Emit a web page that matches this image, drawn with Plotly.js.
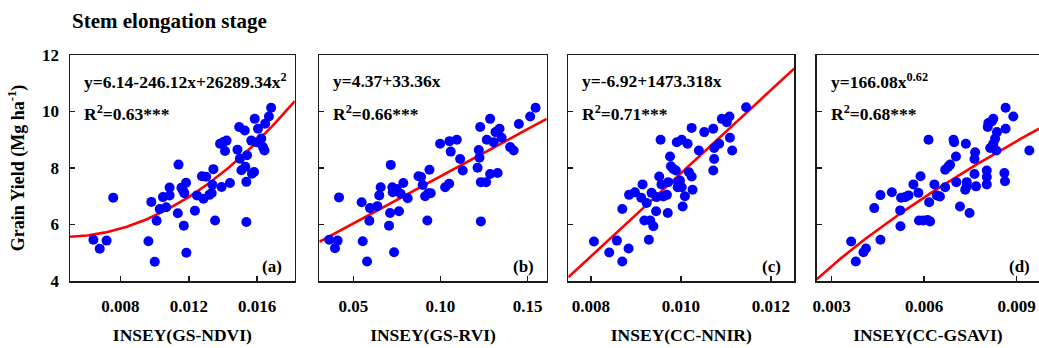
<!DOCTYPE html>
<html>
<head>
<meta charset="utf-8">
<script src="https://cdn.plot.ly/plotly-3.0.1.min.js"></script>
<style>
html,body{margin:0;padding:0;background:#fff;overflow:hidden;}
#chart{width:1039px;height:348px;}
</style>
</head>
<body>
<div id="chart"></div>
<script>
// ---- Data ----
const ndviX = [0.00642,0.00679,0.00719,0.00758,0.00964,0.00981,0.01001,0.01012,0.01030,0.01049,0.01068,0.01088,0.01088,0.01136,0.01140,0.01157,0.01166,0.01171,0.01174,0.01184,0.01186,0.01236,0.01248,0.01277,0.01286,0.01302,0.01321,0.01334,0.01344,0.01354,0.01338,0.01383,0.01403,0.01392,0.01412,0.01421,0.01441,0.01485,0.01495,0.01499,0.01508,0.01528,0.01531,0.01537,0.01537,0.01541,0.01566,0.01570,0.01582,0.01586,0.01599,0.01605,0.01624,0.01634,0.01643,0.01647,0.01669,0.01682];
const ndviY = [5.46,5.14,5.43,6.95,5.41,6.80,4.68,6.13,6.55,6.97,6.61,7.03,7.31,6.40,8.12,7.30,7.21,5.96,7.11,7.48,5.00,6.49,7.03,7.71,6.91,7.69,7.05,7.11,7.96,6.14,7.41,8.86,8.92,7.33,8.60,8.97,7.47,8.65,9.45,8.33,7.92,9.33,8.04,7.51,6.09,8.45,8.97,7.80,7.86,9.74,8.91,9.39,9.04,8.74,8.62,9.57,9.82,10.13];

const rviX = [0.0362,0.0395,0.0410,0.0418,0.0548,0.0554,0.0579,0.0592,0.0596,0.0638,0.0649,0.0657,0.0705,0.0711,0.0715,0.0724,0.0726,0.0734,0.0749,0.0762,0.0772,0.0787,0.0812,0.0874,0.0889,0.0898,0.0912,0.0925,0.0931,0.0937,0.0944,0.0998,0.1027,0.1050,0.1052,0.1059,0.1094,0.1113,0.1128,0.1213,0.1220,0.1224,0.1228,0.1232,0.1232,0.1262,0.1266,0.1285,0.1285,0.1305,0.1316,0.1328,0.1339,0.1351,0.1400,0.1420,0.1450,0.1515,0.1546];
const rviY = [5.46,5.16,5.43,6.96,6.79,5.41,4.69,6.13,6.58,6.65,7.03,7.32,5.96,6.41,8.11,7.32,7.14,5.02,7.26,6.47,7.09,7.47,6.93,7.71,7.68,7.40,7.00,6.14,7.11,7.94,7.11,8.86,7.32,7.44,8.95,8.58,9.00,8.32,7.91,8.01,8.64,8.36,9.45,7.50,6.11,7.50,9.00,9.74,7.79,8.91,9.27,7.82,9.39,9.07,8.74,8.62,9.56,9.82,10.13];

const nnirX = [0.00807,0.00841,0.00858,0.00870,0.00870,0.00884,0.00885,0.00898,0.00915,0.00912,0.00919,0.00924,0.00929,0.00932,0.00935,0.00939,0.00945,0.00946,0.00952,0.00955,0.00957,0.00961,0.00969,0.00971,0.00972,0.00976,0.00978,0.00983,0.00989,0.00991,0.00993,0.00994,0.00998,0.01002,0.01002,0.01004,0.01009,0.01015,0.01018,0.01024,0.01024,0.01026,0.01040,0.01052,0.01072,0.01072,0.01074,0.01074,0.01085,0.01091,0.01102,0.01108,0.01109,0.01114,0.01145];
const nnirY = [5.40,5.01,5.43,4.69,6.55,5.15,7.05,7.14,7.42,6.95,6.14,6.76,5.46,6.14,7.12,5.94,6.47,6.97,7.70,9.00,7.42,6.99,7.05,6.41,7.50,8.41,8.06,7.97,7.91,8.91,7.32,7.50,7.56,9.00,7.32,6.64,7.00,8.86,7.85,9.42,7.70,7.23,8.62,9.27,9.39,7.91,8.32,8.71,8.86,9.74,9.62,9.82,9.07,8.62,10.15];

const gsaviX = [0.00363,0.00378,0.00403,0.00411,0.00438,0.00458,0.00458,0.00495,0.00522,0.00523,0.00525,0.00538,0.00549,0.00565,0.00581,0.00583,0.00588,0.00597,0.00611,0.00614,0.00616,0.00619,0.00633,0.00641,0.00651,0.00668,0.00668,0.00678,0.00684,0.00695,0.00697,0.00703,0.00704,0.00716,0.00733,0.00735,0.00738,0.00738,0.00747,0.00763,0.00765,0.00763,0.00768,0.00803,0.00803,0.00803,0.00806,0.00808,0.00814,0.00819,0.00824,0.00824,0.00830,0.00834,0.00836,0.00860,0.00862,0.00864,0.00864,0.00889,0.00941];
const gsaviY = [5.40,4.69,5.02,5.15,6.58,7.04,5.46,7.14,6.50,5.94,6.95,6.97,7.03,7.42,7.12,6.14,7.71,6.14,6.16,9.00,6.79,6.11,7.42,7.03,6.99,7.32,7.94,8.05,8.12,9.00,8.91,8.41,7.50,6.64,7.23,8.86,7.50,7.35,6.41,8.32,8.56,7.79,7.35,7.91,7.68,7.42,9.45,9.59,8.71,9.65,9.74,8.86,9.04,8.62,9.27,7.82,7.53,10.13,9.39,9.82,8.62];

// fitted equations printed in the chart
const fitNdvi = [6.14, -246.12, 26289.34];   // y = a + b x + c x^2
const fitRvi = [4.37, 33.36];                 // y = a + b x
const fitNnir = [-6.92, 1473.318];            // y = a + b x
const fitGsavi = [166.08, 0.62];              // y = a x^b

const eqTexts = ["y=6.14-246.12x+26289.34x<sup>2</sup>", "y=4.37+33.36x", "y=-6.92+1473.318x", "y=166.08x<sup>0.62</sup>"];
const r2Texts = ["R<sup>2</sup>=0.63***", "R<sup>2</sup>=0.66***", "R<sup>2</sup>=0.71***", "R<sup>2</sup>=0.68***"];
const panelLabels = ["(a)", "(b)", "(c)", "(d)"];
const xTitles = ["INSEY(GS-NDVI)", "INSEY(GS-RVI)", "INSEY(CC-NNIR)", "INSEY(CC-GSAVI)"];

const tickValsA = [0.008, 0.012, 0.016], tickTextA = ["0.008", "0.012", "0.016"];
const tickValsB = [0.05, 0.10, 0.15], tickTextB = ["0.05", "0.10", "0.15"];
const tickValsC = [0.008, 0.010, 0.012], tickTextC = ["0.008", "0.010", "0.012"];
const tickValsD = [0.003, 0.006, 0.009], tickTextD = ["0.003", "0.006", "0.009"];
const yTickVals = [4, 6, 8, 10, 12];

// ---- layout geometry ----
const ranges = [[0.00505, 0.0182], [0.0305, 0.161], [0.0075, 0.01252], [0.002513, 0.009723]];
const domains = [[0, 0.2319], [0.2573, 0.4920], [0.5142, 0.7475], [0.7706, 1]];

function sample(r, f) {
  const xs = [], ys = [];
  const n = 120;
  for (let i = 0; i <= n; i++) {
    const x = r[0] + (r[1] - r[0]) * i / n;
    xs.push(x); ys.push(f(x));
  }
  return {xs, ys};
}
const curves = [
  sample(ranges[0], x => fitNdvi[0] + fitNdvi[1] * x + fitNdvi[2] * x * x),
  sample(ranges[1], x => fitRvi[0] + fitRvi[1] * x),
  sample(ranges[2], x => fitNnir[0] + fitNnir[1] * x),
  sample(ranges[3], x => fitGsavi[0] * Math.pow(x, fitGsavi[1]))
];
const pts = [[ndviX, ndviY], [rviX, rviY], [nnirX, nnirY], [gsaviX, gsaviY]];
const tv = [[tickValsA, tickTextA], [tickValsB, tickTextB], [tickValsC, tickTextC], [tickValsD, tickTextD]];

const FONT = "Liberation Serif";
const traces = [];
const layout = {
  width: 1039, height: 348,
  margin: {l: 70, r: 0, t: 55, b: 67},
  paper_bgcolor: "#fff", plot_bgcolor: "#fff",
  showlegend: false,
  font: {family: FONT, size: 16, color: "#000", weight: 700},
  title: {
    text: "Stem elongation stage",
    font: {family: FONT, size: 21, color: "#000", weight: 700},
    xref: "container", yref: "container",
    x: 72 / 1039, xanchor: "left", y: 1 - 20.5 / 348, yanchor: "middle"
  },
  annotations: []
};

for (let i = 0; i < 4; i++) {
  const sfx = i === 0 ? "" : String(i + 1);
  const xa = "x" + sfx, ya = "y" + sfx;
  traces.push({
    type: "scatter", mode: "lines", x: curves[i].xs, y: curves[i].ys,
    xaxis: xa, yaxis: ya, line: {color: "#ff0000", width: 2.6}, hoverinfo: "skip"
  });
  traces.push({
    type: "scatter", mode: "markers", x: pts[i][0], y: pts[i][1],
    xaxis: xa, yaxis: ya, marker: {color: "#0000ff", size: 10, line: {width: 0}}
  });
  layout["xaxis" + sfx] = {
    domain: domains[i], range: ranges[i], anchor: ya,
    showgrid: false, zeroline: false,
    showline: true, mirror: true, linecolor: "#1a1a1a", linewidth: 1.5,
    ticks: "inside", ticklen: 5, tickwidth: 1.5, tickcolor: "#1a1a1a",
    tickvals: tv[i][0], ticktext: tv[i][1],
    tickfont: {family: FONT, size: 17, color: "#000", weight: 700},
    ticklabelstandoff: 9,
    title: {text: xTitles[i], font: {family: FONT, size: 17.5, color: "#000", weight: 700}, standoff: 14}
  };
  layout["yaxis" + sfx] = {
    domain: [0, 1], range: [4, 12], anchor: xa,
    showgrid: false, zeroline: false,
    showline: true, mirror: i < 3, linecolor: "#1a1a1a", linewidth: 1.5,
    ticks: "inside", ticklen: 5, tickwidth: 1.5, tickcolor: "#1a1a1a",
    tickvals: yTickVals, showticklabels: i === 0,
    tickfont: {family: FONT, size: 17, color: "#000", weight: 700},
    ticklabelstandoff: 6
  };
  if (i === 0) {
    layout.yaxis.title = {text: "Grain Yield (Mg ha<sup>-1</sup>)", font: {family: FONT, size: 18, color: "#000", weight: 700}, standoff: 13};
  }
  layout.annotations.push({
    xref: xa + " domain", yref: ya + " domain", x: 0, y: 1, xshift: 12, yshift: -26,
    xanchor: "left", yanchor: "middle", showarrow: false,
    text: eqTexts[i], font: {family: FONT, size: 17.5, color: "#000", weight: 700}
  });
  layout.annotations.push({
    xref: xa + " domain", yref: ya + " domain", x: 0, y: 1, xshift: 12, yshift: -58,
    xanchor: "left", yanchor: "middle", showarrow: false,
    text: r2Texts[i], font: {family: FONT, size: 17.5, color: "#000", weight: 700}
  });
  layout.annotations.push({
    xref: xa + " domain", yref: ya + " domain", x: 1, y: 0, xshift: i === 3 ? -7 : -11, yshift: 15,
    xanchor: "right", yanchor: "middle", showarrow: false,
    text: panelLabels[i], font: {family: FONT, size: 17, color: "#000", weight: 700}
  });
}

Plotly.newPlot("chart", traces, layout, {displayModeBar: false, staticPlot: true});
</script>
</body>
</html>
